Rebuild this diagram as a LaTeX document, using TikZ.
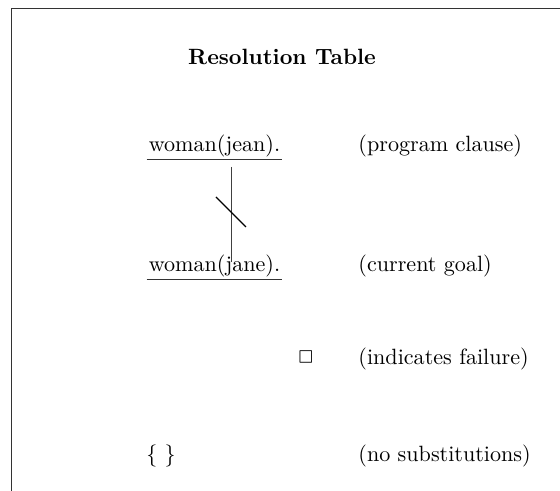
\documentclass[tikz,border=0pt]{standalone}
\usepackage{amsmath}
\usepackage{amssymb,latexsym}
\usepackage{tikz}
\usetikzlibrary{calc}
\tikzset{clause/.style={inner sep=1pt, outer sep=0pt, anchor=base}}
\tikzset{note/.style={inner sep=0pt, anchor=base west}}

\begin{document}
\begin{tikzpicture}[x=0.159cm, y=0.159cm]

\useasboundingbox (0,0) rectangle (56,49.1);

%frame
\draw[gray!40!black] (1.1,0) -- (1.1,48.3) -- (56,48.3);

\node[font=\bfseries] (title) at (28.2,43.4) {Resolution Table};

\node[clause] (jean) at (21.45,33.95) {woman(jean).};
\node[clause] (jane) at (21.45,21.9) {woman(jane).};
\draw[gray!40!black] (jean.south west) -- (jean.south east);
\draw[gray!40!black] (jane.south west) -- (jane.south east);

\node[note] (prog) at (35.8,33.95) {(program clause)};
\node[note] (goal) at (35.8,21.9) {(current goal)};
\node[note] (fail) at (35.8,12.6) {(indicates failure)};
\node[note] (subst) at (35.8,2.95) {(no substitutions)};

\node[inner sep=0pt, anchor=base] (box) at (30.6,12.6) {$\Box$};
\node[inner sep=0pt, anchor=base] (empty) at (16.1,2.95) {$\{\ \}$};

\coordinate (top) at (23.1,32.4);
\coordinate (bot) at (23.1,22.9);
\draw[gray!50!black] (top) -- (bot);
\draw[semithick] (21.6,29.4) -- (24.6,26.4);

\end{tikzpicture}
\end{document}
